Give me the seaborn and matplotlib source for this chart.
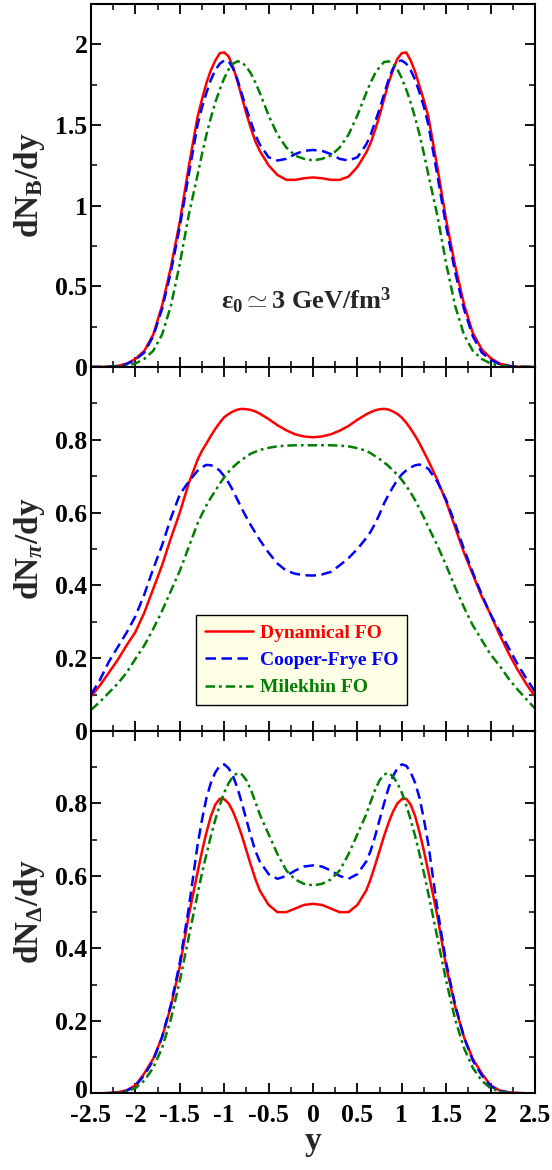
import matplotlib
matplotlib.use("Agg")
import matplotlib.pyplot as plt
import matplotlib.transforms as mtransforms
import seaborn as sns
import pandas as pd
from matplotlib.lines import Line2D
from matplotlib.ticker import MultipleLocator, FuncFormatter

# ---------------- data ----------------
# rapidity grid: 0.1 steps, 0.05 steps around the peaks
rapidity = [-2.5, -2.4, -2.3, -2.2, -2.1, -2.0, -1.9, -1.8, -1.7, -1.6, -1.5, -1.4,
            -1.3, -1.25, -1.2, -1.15, -1.1, -1.05, -1.0, -0.95, -0.9, -0.85, -0.8, -0.75, -0.7, -0.65, -0.6,
            -0.5, -0.4, -0.3, -0.2, -0.1, 0.0, 0.1, 0.2, 0.3, 0.4, 0.5,
            0.6, 0.65, 0.7, 0.75, 0.8, 0.85, 0.9, 0.95, 1.0, 1.05, 1.1, 1.15, 1.2, 1.25, 1.3,
            1.4, 1.5, 1.6, 1.7, 1.8, 1.9, 2.0, 2.1, 2.2, 2.3, 2.4, 2.5]

models = ["Dynamical FO", "Cooper-Frye FO", "Milekhin FO"]

# baryons dN_B/dy
baryon_dynamical = [0.0, 0.0005, 0.002, 0.007, 0.02, 0.05, 0.10, 0.20, 0.38, 0.62, 0.90, 1.24,
                    1.55, 1.66, 1.76, 1.84, 1.90, 1.945, 1.95, 1.925, 1.86, 1.77, 1.67, 1.57, 1.48, 1.40, 1.34,
                    1.25, 1.19, 1.16, 1.16, 1.17, 1.175, 1.17, 1.16, 1.16, 1.18, 1.24,
                    1.33, 1.39, 1.47, 1.56, 1.66, 1.76, 1.84, 1.91, 1.945, 1.95, 1.90, 1.83, 1.74, 1.65, 1.55,
                    1.24, 0.91, 0.63, 0.39, 0.21, 0.11, 0.055, 0.022, 0.008, 0.002, 0.0005, 0.0]
baryon_cooper = [0.0, 0.0005, 0.002, 0.006, 0.018, 0.045, 0.09, 0.19, 0.36, 0.59, 0.87, 1.19,
                 1.50, 1.61, 1.70, 1.78, 1.84, 1.88, 1.90, 1.895, 1.85, 1.78, 1.69, 1.60, 1.52, 1.44, 1.38,
                 1.30, 1.28, 1.29, 1.32, 1.34, 1.345, 1.34, 1.32, 1.29, 1.28, 1.30,
                 1.38, 1.44, 1.52, 1.60, 1.69, 1.78, 1.85, 1.895, 1.90, 1.88, 1.84, 1.78, 1.70, 1.61, 1.50,
                 1.19, 0.87, 0.59, 0.36, 0.19, 0.09, 0.045, 0.018, 0.006, 0.002, 0.0005, 0.0]
baryon_milekhin = [0.0, 0.0, 0.001, 0.003, 0.008, 0.022, 0.05, 0.10, 0.20, 0.38, 0.64, 0.94,
                   1.19, 1.32, 1.44, 1.545, 1.64, 1.72, 1.79, 1.845, 1.88, 1.895, 1.89, 1.86, 1.82, 1.765, 1.70,
                   1.56, 1.44, 1.36, 1.31, 1.29, 1.28, 1.29, 1.31, 1.36, 1.44, 1.56,
                   1.70, 1.765, 1.82, 1.86, 1.89, 1.895, 1.88, 1.845, 1.79, 1.72, 1.64, 1.545, 1.44, 1.32, 1.19,
                   0.94, 0.64, 0.38, 0.20, 0.10, 0.05, 0.022, 0.008, 0.003, 0.001, 0.0, 0.0]

# pions dN_pi/dy
pion_dynamical = [0.095, 0.125, 0.16, 0.195, 0.235, 0.272, 0.325, 0.39, 0.455, 0.53, 0.60, 0.68,
                  0.745, 0.77, 0.79, 0.811, 0.83, 0.847, 0.862, 0.871, 0.878, 0.883, 0.885, 0.884, 0.882, 0.878, 0.872,
                  0.857, 0.84, 0.826, 0.815, 0.809, 0.807, 0.809, 0.815, 0.825, 0.838, 0.855,
                  0.87, 0.876, 0.881, 0.884, 0.885, 0.883, 0.878, 0.871, 0.861, 0.847, 0.83, 0.811, 0.79, 0.766, 0.742,
                  0.69, 0.63, 0.56, 0.49, 0.43, 0.37, 0.32, 0.265, 0.215, 0.17, 0.13, 0.095]
pion_cooper = [0.10, 0.14, 0.19, 0.23, 0.27, 0.315, 0.375, 0.445, 0.51, 0.585, 0.65, 0.685,
               0.715, 0.725, 0.731, 0.73, 0.725, 0.715, 0.70, 0.682, 0.66, 0.635, 0.61, 0.587, 0.565, 0.545, 0.525,
               0.49, 0.46, 0.44, 0.432, 0.428, 0.427, 0.43, 0.437, 0.455, 0.475, 0.50,
               0.53, 0.548, 0.57, 0.596, 0.625, 0.649, 0.67, 0.69, 0.705, 0.716, 0.724, 0.73, 0.732, 0.728, 0.72,
               0.685, 0.635, 0.57, 0.50, 0.435, 0.375, 0.32, 0.275, 0.23, 0.185, 0.145, 0.108]
pion_milekhin = [0.058, 0.08, 0.105, 0.13, 0.16, 0.198, 0.235, 0.28, 0.33, 0.385, 0.44, 0.505,
                 0.57, 0.596, 0.62, 0.641, 0.66, 0.679, 0.697, 0.712, 0.725, 0.736, 0.745, 0.754, 0.762, 0.767, 0.772,
                 0.778, 0.782, 0.784, 0.785, 0.785, 0.785, 0.785, 0.785, 0.784, 0.782, 0.777,
                 0.77, 0.763, 0.755, 0.747, 0.738, 0.728, 0.716, 0.704, 0.69, 0.673, 0.655, 0.634, 0.61, 0.586, 0.56,
                 0.51, 0.455, 0.395, 0.34, 0.29, 0.25, 0.21, 0.18, 0.145, 0.115, 0.088, 0.062]

# Delta dN_Delta/dy
delta_dynamical = [0.0, 0.0, 0.001, 0.003, 0.008, 0.022, 0.055, 0.095, 0.155, 0.24, 0.35, 0.49,
                   0.61, 0.668, 0.72, 0.765, 0.797, 0.813, 0.812, 0.80, 0.777, 0.746, 0.71, 0.67, 0.63, 0.592, 0.56,
                   0.52, 0.50, 0.50, 0.51, 0.52, 0.523, 0.52, 0.51, 0.50, 0.50, 0.52,
                   0.56, 0.592, 0.63, 0.67, 0.71, 0.746, 0.777, 0.80, 0.812, 0.813, 0.797, 0.765, 0.72, 0.668, 0.61,
                   0.49, 0.35, 0.24, 0.155, 0.095, 0.055, 0.022, 0.008, 0.003, 0.001, 0.0, 0.0]
delta_cooper = [0.0, 0.0, 0.0005, 0.002, 0.007, 0.02, 0.05, 0.09, 0.155, 0.245, 0.36, 0.51,
                0.685, 0.755, 0.815, 0.857, 0.886, 0.904, 0.908, 0.897, 0.875, 0.842, 0.80, 0.755, 0.71, 0.67, 0.64,
                0.605, 0.592, 0.60, 0.615, 0.626, 0.629, 0.626, 0.615, 0.60, 0.592, 0.605,
                0.64, 0.67, 0.71, 0.755, 0.80, 0.842, 0.875, 0.897, 0.908, 0.904, 0.886, 0.857, 0.815, 0.755, 0.685,
                0.51, 0.36, 0.245, 0.155, 0.09, 0.05, 0.02, 0.007, 0.002, 0.0005, 0.0, 0.0]
delta_milekhin = [0.0, 0.0, 0.0, 0.001, 0.005, 0.014, 0.035, 0.07, 0.125, 0.205, 0.31, 0.43,
                  0.55, 0.607, 0.66, 0.71, 0.755, 0.795, 0.83, 0.856, 0.875, 0.884, 0.88, 0.864, 0.838, 0.805, 0.77,
                  0.715, 0.66, 0.615, 0.59, 0.578, 0.574, 0.578, 0.59, 0.615, 0.66, 0.715,
                  0.77, 0.805, 0.838, 0.864, 0.88, 0.884, 0.875, 0.856, 0.83, 0.795, 0.755, 0.71, 0.66, 0.607, 0.55,
                  0.43, 0.31, 0.205, 0.125, 0.07, 0.035, 0.014, 0.005, 0.001, 0.0, 0.0, 0.0]

x_ticks = [-2.5, -2, -1.5, -1, -0.5, 0, 0.5, 1, 1.5, 2, 2.5]

# ---------------- style ----------------
sns.set_style("ticks")
plt.rcParams.update({
    "font.family": ["Liberation Serif", "DejaVu Serif"],
    "font.weight": "bold",
    "mathtext.fontset": "custom",
    "mathtext.rm": "Liberation Serif:bold",
    "mathtext.bf": "Liberation Serif:bold",
    "mathtext.it": "Liberation Serif:italic:bold",
    "axes.unicode_minus": False,
    "axes.linewidth": 1.5,
    "axes.edgecolor": "black",
})

colors = {"Dynamical FO": "#FF0000", "Cooper-Frye FO": "#0000FF", "Milekhin FO": "#007F00"}
dashes = {"Dynamical FO": "", "Cooper-Frye FO": (4.2, 2.2), "Milekhin FO": (3.8, 1.6, 1.1, 1.6)}

fig = plt.figure(figsize=(5.52, 11.70), dpi=100)
L, W = 91 / 552, 444 / 552
ax1 = fig.add_axes([L, 1 - 367 / 1170, W, 363 / 1170])
ax2 = fig.add_axes([L, 1 - 731 / 1170, W, 364 / 1170])
ax3 = fig.add_axes([L, 1 - 1093.3 / 1170, W, 362.3 / 1170])

panels = [
    (ax1, [baryon_dynamical, baryon_cooper, baryon_milekhin], 2.25, 0.5, 0.25,
     r"$\mathrm{dN_{B}/dy}$"),
    (ax2, [pion_dynamical, pion_cooper, pion_milekhin], 1.0, 0.2, 0.1,
     r"$\mathrm{dN}_{\pi}\mathrm{/dy}$"),
    (ax3, [delta_dynamical, delta_cooper, delta_milekhin], 1.0, 0.2, 0.1,
     r"$\mathrm{dN_{\Delta}/dy}$"),
]

fmt = FuncFormatter(lambda v, p: "%g" % round(v, 3))

for ax, series, ytop, major, minor, ylabel in panels:
    frames = []
    for m, vals in zip(models, series):
        frames.append(pd.DataFrame({"y": rapidity, "val": vals, "model": m}))
    df = pd.concat(frames, ignore_index=True)
    sns.lineplot(data=df, x="y", y="val", hue="model", style="model",
                 hue_order=models, style_order=models,
                 palette=colors, dashes=dashes, linewidth=1.8,
                 legend=False, ax=ax, errorbar=None, sort=False)
    ax.set_xlim(-2.5, 2.5)
    ax.set_ylim(0, ytop)
    ax.xaxis.set_major_locator(MultipleLocator(0.5))
    ax.xaxis.set_minor_locator(MultipleLocator(0.25))
    ax.yaxis.set_major_locator(MultipleLocator(major))
    ax.yaxis.set_minor_locator(MultipleLocator(minor))
    ax.yaxis.set_major_formatter(fmt)
    ax.xaxis.set_major_formatter(fmt)
    ax.tick_params(which="both", direction="in", top=True, right=True,
                   colors="black", labelsize=18.5)
    ax.tick_params(which="major", length=7, width=1.3)
    ax.tick_params(which="minor", length=4, width=1.1)
    ax.tick_params(axis="y", pad=2.5)
    ax.tick_params(axis="x", pad=8)
    ax.set_ylabel(ylabel, fontsize=24)
    ax.yaxis.set_label_coords(-0.098, 0.5)
    ax.set_xlabel("")
    for s in ax.spines.values():
        s.set_linewidth(1.5)

ax1.tick_params(labelbottom=False)
ax2.tick_params(labelbottom=False)
ax2.set_yticks([0, 0.2, 0.4, 0.6, 0.8])
ax3.set_yticks([0, 0.2, 0.4, 0.6, 0.8])
ax3.set_xticks(x_ticks)
ax3.set_xlabel("y", fontsize=24, fontweight="bold", labelpad=-1)

# nudge the bottom-left "0" of the lowest panel up a little so it clears "-2.5"
lab0 = ax3.get_yticklabels()[0]
lab0.set_transform(lab0.get_transform() +
                   mtransforms.ScaledTranslation(0, 3 / 72, fig.dpi_scale_trans))

ax1.text(-0.08, 0.41, r"$\mathrm{\varepsilon_0 \simeq 3\ GeV/fm^3}$", fontsize=19,
         ha="center", va="center")

handles = [Line2D([0], [0], color=colors[m], linewidth=1.8,
                  dashes=dashes[m] if dashes[m] else (None, None)) for m in models]
handles[0].set_linestyle("-")
leg = ax2.legend(handles, models, loc="lower left", bbox_to_anchor=(0.236, 0.071),
                 borderaxespad=0, fontsize=14, handlelength=2.5, handletextpad=0.35,
                 labelspacing=0.5, borderpad=0.45, frameon=True, fancybox=False,
                 framealpha=1, edgecolor="black", facecolor="#FFFFE6")
leg.get_frame().set_linewidth(1.0)
for t, m in zip(leg.get_texts(), models):
    t.set_color(colors[m])
    t.set_fontweight("bold")

fig.savefig("out.png", dpi=100, facecolor="white")
